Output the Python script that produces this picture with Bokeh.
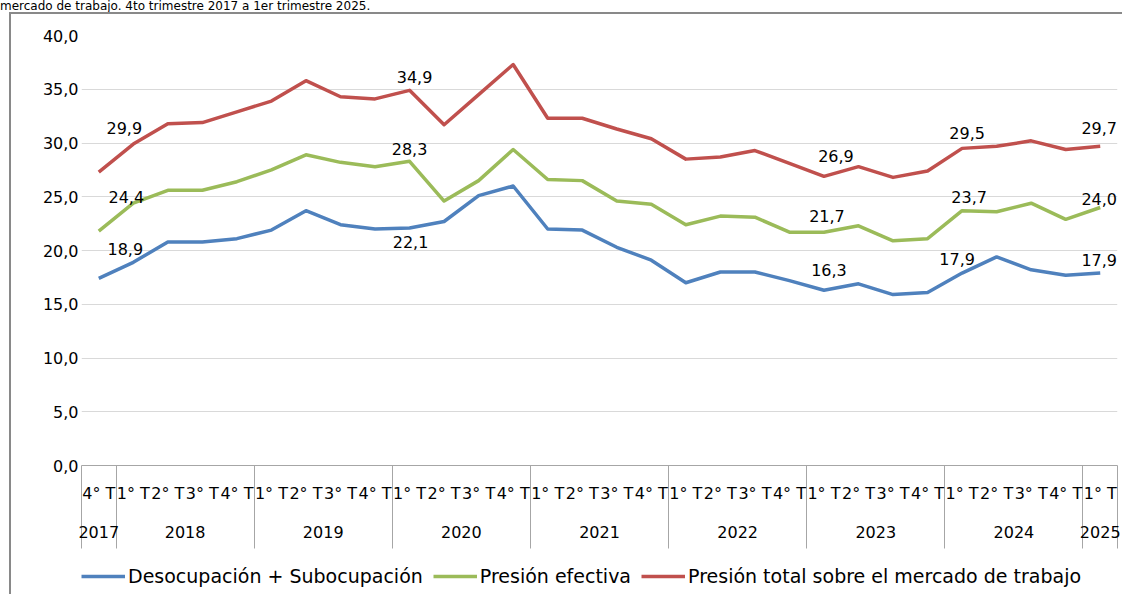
from bokeh.plotting import figure
from bokeh.models import (ColumnDataSource, LinearAxis, FixedTicker, Range1d, Legend,
                          LegendItem, LabelSet, Div)
from bokeh.layouts import column
from bokeh.core.properties import value
from bokeh.embed import file_html
from bokeh.resources import INLINE

# ---------------- data ----------------
quarters = ["4° T",
            "1° T", "2° T", "3° T", "4° T",
            "1° T", "2° T", "3° T", "4° T",
            "1° T", "2° T", "3° T", "4° T",
            "1° T", "2° T", "3° T", "4° T",
            "1° T", "2° T", "3° T", "4° T",
            "1° T", "2° T", "3° T", "4° T",
            "1° T", "2° T", "3° T", "4° T",
            "1° T"]
years = ["2017",
         "2018", "2018", "2018", "2018",
         "2019", "2019", "2019", "2019",
         "2020", "2020", "2020", "2020",
         "2021", "2021", "2021", "2021",
         "2022", "2022", "2022", "2022",
         "2023", "2023", "2023", "2023",
         "2024", "2024", "2024", "2024",
         "2025"]

desocupacion = [17.4, 18.9, 20.8, 20.8, 21.1, 21.9, 23.7, 22.4, 22.0, 22.1,
                22.7, 25.1, 26.0, 22.0, 21.9, 20.3, 19.1, 17.0, 18.0, 18.0,
                17.2, 16.3, 16.9, 15.9, 16.1, 17.9, 19.4, 18.2, 17.7, 17.9]
presion_efectiva = [21.8, 24.4, 25.6, 25.6, 26.4, 27.5, 28.9, 28.2, 27.8, 28.3,
                    24.6, 26.5, 29.4, 26.6, 26.5, 24.6, 24.3, 22.4, 23.2, 23.1,
                    21.7, 21.7, 22.3, 20.9, 21.1, 23.7, 23.6, 24.4, 22.9, 24.0]
presion_total = [27.3, 29.9, 31.8, 31.9, 32.9, 33.9, 35.8, 34.3, 34.1, 34.9,
                 31.7, 34.5, 37.3, 32.3, 32.3, 31.3, 30.4, 28.5, 28.7, 29.3,
                 28.1, 26.9, 27.8, 26.8, 27.4, 29.5, 29.7, 30.2, 29.4, 29.7]

series_names = ["Desocupación + Subocupación", "Presión efectiva",
                "Presión total sobre el mercado de trabajo"]

y_ticks = [0, 5, 10, 15, 20, 25, 30, 35, 40]
y_tick_labels = ["0,0", "5,0", "10,0", "15,0", "20,0", "25,0", "30,0", "35,0", "40,0"]

labeled_points = [1, 9, 21, 25, 29]

title_text = "mercado de trabajo. 4to trimestre 2017 a 1er trimestre 2025."

# ---------------- styles ----------------
FONT = "DejaVu Sans"
colors = ["#4F81BD", "#9BBB59", "#C0504D"]
BORDER = "2px solid #898989"
# pixel offsets of the data labels (x, y) per series, matching labeled_points
label_dx = [[-8, 1, 5, -5, -1], [-7, 0, 3, 7, -1], [-9, 5, 12, 5, -1]]
label_dy = [[13, -14, 20, 14, 13], [6, 12, 16, 14, 9], [16, 13, 20, 15, 18]]

n = len(quarters)
xs = list(range(n))

# ---------------- main chart ----------------
p = figure(width=1113, height=540, output_backend="svg", toolbar_location=None,
           x_range=Range1d(-0.5, n - 0.5), y_range=Range1d(0, 40),
           x_axis_type=None, min_border_left=70, min_border_right=7,
           min_border_top=21, min_border_bottom=89, margin=(0, 0, 0, 9),
           styles={"border-left": BORDER, "border-top": BORDER})
p.outline_line_color = None
p.background_fill_color = "white"
p.border_fill_color = "white"

yax = p.yaxis[0]
yax.ticker = FixedTicker(ticks=y_ticks)
yax.major_label_overrides = {t: l for t, l in zip(y_ticks, y_tick_labels)}
yax.axis_line_color = None
yax.major_tick_line_color = None
yax.minor_tick_line_color = None
yax.major_tick_out = 0
yax.major_tick_in = 0
yax.major_label_standoff = 3
yax.major_label_text_font = FONT
yax.major_label_text_font_size = "16px"
yax.major_label_text_color = "#000000"
p.ygrid.grid_line_color = "#D9D9D9"
p.ygrid.grid_line_width = 1

# category axis: quarter labels + group separators, then year labels
bounds = [-0.5] + [i - 0.5 for i in range(1, n) if years[i] != years[i - 1]] + [n - 0.5]
year_names = []
for y in years:
    if y not in year_names:
        year_names.append(y)
year_centers = []
for y in year_names:
    idx = [i for i in range(n) if years[i] == y]
    year_centers.append(sum(idx) / len(idx))

SEP = 83
axq = LinearAxis(ticker=FixedTicker(ticks=xs, minor_ticks=bounds),
                 major_label_overrides={i: q for i, q in zip(xs, quarters)},
                 axis_line_color="#A6A6A6", axis_line_width=1,
                 major_tick_out=0, major_tick_in=0, major_tick_line_color=None,
                 minor_tick_out=SEP, minor_tick_in=0, minor_tick_line_color="#A6A6A6",
                 major_label_standoff=18 - SEP, major_label_text_font=FONT,
                 major_label_text_font_size="16px", major_label_text_color="#000000")
axy = LinearAxis(ticker=FixedTicker(ticks=year_centers, minor_ticks=[]),
                 major_label_overrides={c: y for c, y in zip(year_centers, year_names)},
                 axis_line_color=None, major_tick_out=0, major_tick_in=0,
                 major_tick_line_color=None, minor_tick_line_color=None,
                 major_label_standoff=20, major_label_text_font=FONT,
                 major_label_text_font_size="16px", major_label_text_color="#000000")
p.add_layout(axq, "below")
p.add_layout(axy, "below")

all_series = [desocupacion, presion_efectiva, presion_total]
for k, (vals, col) in enumerate(zip(all_series, colors)):
    src = ColumnDataSource(dict(x=xs, y=vals))
    p.line("x", "y", source=src, line_color=col, line_width=3.5, line_join="round")
    lsrc = ColumnDataSource(dict(
        x=labeled_points,
        y=[vals[i] for i in labeled_points],
        text=[f"{vals[i]:.1f}".replace(".", ",") for i in labeled_points],
        dx=label_dx[k], dy=label_dy[k]))
    p.add_layout(LabelSet(x="x", y="y", text="text", source=lsrc,
                          x_offset="dx", y_offset="dy",
                          text_align="center", text_baseline="middle",
                          text_font=value(FONT), text_font_size=value("16px"),
                          text_color="#000000"))

# ---------------- legend strip ----------------
pl = figure(width=1113, height=42, output_backend="svg", toolbar_location=None,
            x_range=Range1d(0, 1), y_range=Range1d(0, 1),
            x_axis_type=None, y_axis_type=None, min_border=0,
            margin=(0, 0, 0, 9), styles={"border-left": BORDER})
pl.outline_line_color = None
pl.grid.visible = False
nan = float("nan")
items = []
for col, name in zip(colors, series_names):
    # legend-only renderers (no visible data)
    r = pl.line([0, 1], [nan, nan], line_color=col, line_width=3.5)
    items.append(LegendItem(label=name, renderers=[r]))
legend = Legend(items=items, orientation="horizontal", location=(0, 7),
                glyph_width=44, glyph_height=20, label_standoff=3, spacing=10,
                padding=0, margin=0, border_line_color=None, background_fill_alpha=0,
                label_text_font=FONT, label_text_font_size="19px",
                label_text_color="#000000")
pl.add_layout(legend)

title = Div(text=title_text, width=1124, height=12, margin=(0, 0, 0, 0),
            styles={"font-family": FONT, "font-size": "12px", "line-height": "12px",
                    "color": "#000000", "white-space": "nowrap"})

layout = column(title, p, pl)
open("out.html", "w").write(file_html(layout, INLINE))
